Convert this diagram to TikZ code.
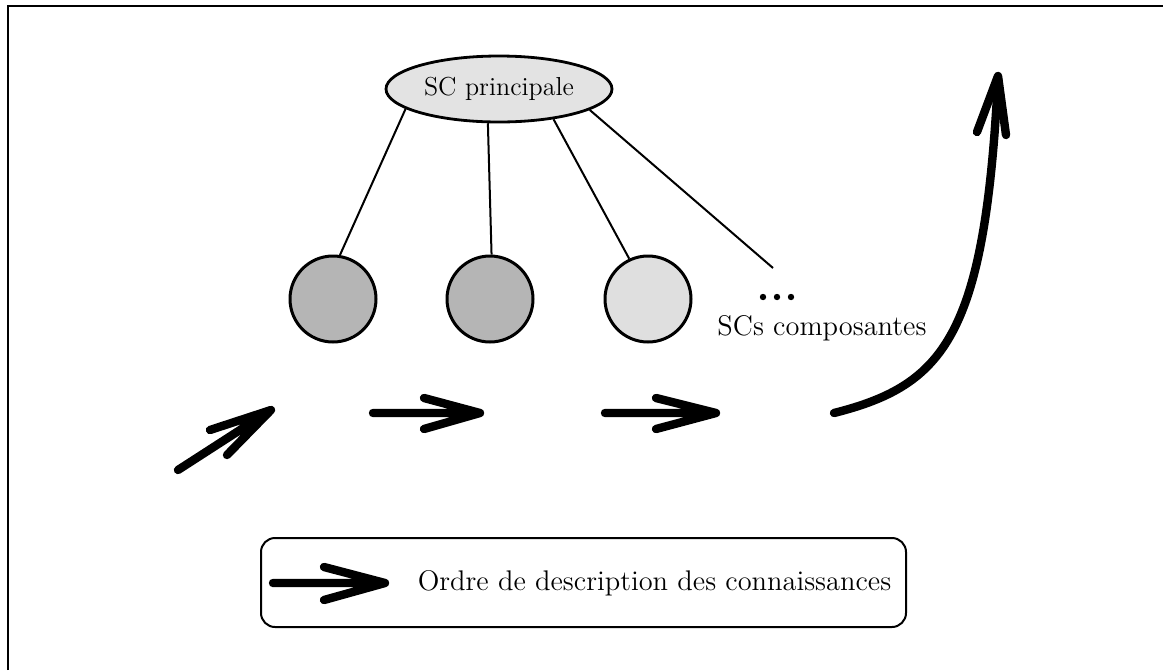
\documentclass[tikz,border=0pt]{standalone}
\usepackage{fontspec}
\usetikzlibrary{shapes.geometric}
\begin{document}
\begin{tikzpicture}[x=0.5pt,y=-0.5pt,
  framestyle/.style={line width=1pt},
  scbox/.style={ellipse,draw,line width=1.4pt,fill=gray!22,minimum width=113pt,minimum height=33pt,inner sep=0pt,font=\fontsize{13}{15}\selectfont},
  scdark/.style={circle,draw,line width=1.5pt,fill=gray!58,minimum size=43pt,inner sep=0pt},
  sclight/.style={circle,draw,line width=1.5pt,fill=gray!25,minimum size=43pt,inner sep=0pt},
  link/.style={line width=1pt},
  dotmark/.style={circle,fill=black,inner sep=0pt,minimum size=3.2pt},
  harrow/.style={line width=4.2pt,line cap=round,line join=round},
  lbl/.style={inner sep=0pt,font=\fontsize{14.2}{17}\selectfont},
  legendbox/.style={draw,line width=1pt,rounded corners=7pt,minimum width=322.5pt,minimum height=44.5pt,inner sep=0pt}]
\useasboundingbox (0,0) rectangle (1163,670);
% frame (top and left)
\draw[framestyle] (8,670) -- (8,6) -- (1163,6);
% main SC
\node[scbox] (main) at (499,89) {SC principale};
% component SCs
\node[scdark] (c1) at (333,299) {};
\node[scdark] (c2) at (490,299) {};
\node[sclight] (c3) at (648,299) {};
\coordinate (c4) at (773,268);
\node[dotmark] (d1) at (763,297) {};
\node[dotmark] (d2) at (777,297) {};
\node[dotmark] (d3) at (791,297) {};
\node[lbl] (comp) at (822,328) {SCs composantes};
% links
\draw[link] (main.192) -- (c1.81);
\draw[link] (main.252) -- (c2.88);
\draw[link] (main.331) -- (c3.115);
\draw[link] (main.347) -- (c4);
% order arrows
\draw[harrow] (178,470) -- (271,410) (210,430) -- (271,410) -- (227,455);
\draw[harrow] (373,413) -- (480,413) (424,398) -- (480,413) -- (424,429);
\draw[harrow] (605,413) -- (716,413) (656,398) -- (716,413) -- (656,429);
\draw[harrow] (834,413) .. controls (945,385) and (985,335) .. (998,78);
\draw[harrow] (977,132) -- (998,76) -- (1006,135);
% legend
\node[legendbox] (legend) at (583.5,582.5) {};
\draw[harrow] (273,583) -- (385,583) (324,567) -- (385,583) -- (324,600);
\node[lbl] (ltext) at (654.5,583) {Ordre de description des connaissances};
\end{tikzpicture}
\end{document}
